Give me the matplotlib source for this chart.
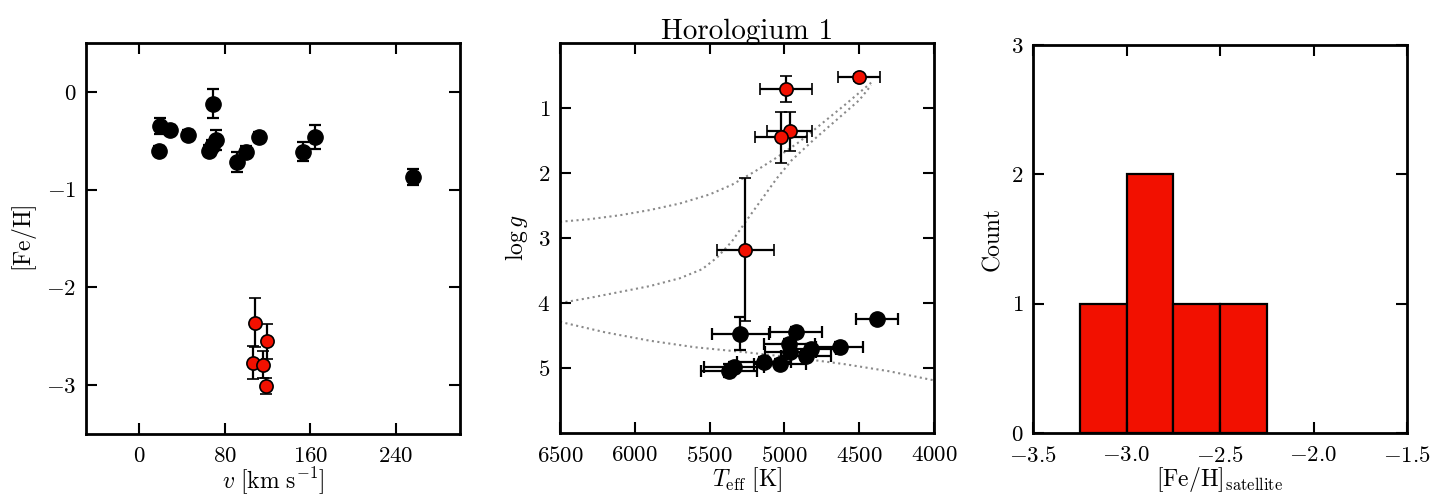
import numpy as np
import matplotlib
matplotlib.use("Agg")
import matplotlib.pyplot as plt

plt.rcParams['font.family'] = 'serif'
plt.rcParams['font.serif'] = ['cmr10', 'DejaVu Serif']
plt.rcParams['mathtext.fontset'] = 'cm'
plt.rcParams['axes.formatter.use_mathtext'] = True
plt.rcParams['axes.unicode_minus'] = True

# --- Field stars (foreground) : velocity vs metallicity
field_v = [18, 19, 29, 45, 69, 65, 72, 68, 91, 100, 112, 153, 164, 256]
field_feh = [-0.60, -0.35, -0.39, -0.44, -0.12, -0.60, -0.49, -0.55, -0.72, -0.61, -0.46, -0.61, -0.46, -0.87]
field_feh_err = [0.05, 0.08, 0.05, 0.05, 0.15, 0.06, 0.10, 0.06, 0.10, 0.06, 0.05, 0.10, 0.12, 0.08]

# --- Satellite members
memb_v = [108, 119, 106, 116, 118]
memb_feh = [-2.36, -2.55, -2.77, -2.79, -3.01]
memb_feh_err = [0.25, 0.18, 0.17, 0.14, 0.08]

# --- Stellar parameters: members
memb_teff = [4500, 4990, 4965, 5025, 5262]
memb_teff_err = [140, 175, 150, 173, 190]
memb_logg = [0.53, 0.71, 1.36, 1.45, 3.18]
memb_logg_err = [0.05, 0.20, 0.30, 0.39, 1.10]

# --- Stellar parameters: field stars
field_teff = [4380, 5296, 4922, 4967, 4631, 4821, 4855, 5139, 5030, 5336, 5370, 4960]
field_teff_err = [140, 190, 173, 170, 157, 165, 165, 180, 175, 200, 190, 170]
field_logg = [4.25, 4.47, 4.45, 4.63, 4.68, 4.71, 4.81, 4.91, 4.94, 4.99, 5.04, 4.75]
field_logg_err = [0.05, 0.25, 0.08, 0.08, 0.08, 0.08, 0.08, 0.08, 0.08, 0.08, 0.10, 0.08]

# --- Isochrone tracks
iso1_teff = [6500, 6300, 6100, 5900, 5700, 5500, 5350, 5200, 5050, 4900, 4750, 4600, 4420]
iso1_logg = [2.75, 2.71, 2.65, 2.57, 2.47, 2.33, 2.18, 1.98, 1.76, 1.52, 1.24, 0.96, 0.61]
iso2_teff = [6500, 6300, 6100, 5900, 5700, 5550, 5450, 5350, 5250, 5150, 5050, 4950, 4800, 4650, 4500, 4420]
iso2_logg = [4.00, 3.92, 3.83, 3.74, 3.62, 3.48, 3.30, 3.05, 2.72, 2.40, 2.08, 1.80, 1.48, 1.18, 0.88, 0.65]
iso3_teff = [6500, 6200, 5900, 5600, 5250, 4900, 4600, 4300, 4000]
iso3_logg = [4.29, 4.45, 4.58, 4.68, 4.76, 4.85, 4.94, 5.05, 5.19]

# --- Histogram bins
hist_bins = [-3.25, -3.0, -2.75, -2.5, -2.25]

red = '#f21000'
W, H = 1435, 495
fig = plt.figure(figsize=(W / 100, H / 100), dpi=100)

def box(x0, x1, y0, y1):
    return [x0 / W, 1 - y1 / H, (x1 - x0) / W, (y1 - y0) / H]

ax1 = fig.add_axes(box(86, 460, 43, 434))
ax2 = fig.add_axes(box(560, 934, 43, 433))
ax3 = fig.add_axes(box(1033, 1407, 45, 433))

for ax in (ax1, ax2, ax3):
    for s in ax.spines.values():
        s.set_linewidth(2)
    ax.tick_params(direction='in', length=8, width=1.5, top=True, right=True,
                   labelsize=16.5)
    ax.tick_params(axis='x', pad=9)
    ax.tick_params(axis='y', pad=7)

ebkw = dict(fmt='o', ecolor='black', elinewidth=1.6, capsize=4, capthick=1.6)

# Left: velocity vs [Fe/H]
ax1.errorbar(field_v, field_feh, yerr=field_feh_err, mfc='black', mec='black',
             ms=11, **ebkw)
ax1.errorbar(memb_v, memb_feh, yerr=memb_feh_err, mfc=red, mec='black', mew=1.2,
             ms=9.5, **ebkw)
ax1.set_xlim(-50, 300)
ax1.set_ylim(-3.5, 0.5)
ax1.set_xticks([0, 80, 160, 240])
ax1.set_yticks([0, -1, -2, -3])
ax1.set_xlabel(r'$v\ [\mathrm{km\ s^{-1}}]$', fontsize=17, labelpad=0)
ax1.set_ylabel(r'$[\mathrm{Fe/H}]$', fontsize=17, labelpad=5)

# Middle: Teff vs log g
for t, g in ((iso1_teff, iso1_logg), (iso2_teff, iso2_logg), (iso3_teff, iso3_logg)):
    ax2.plot(t, g, ls=':', color='#8a8a8a', lw=1.5, zorder=1)
ax2.errorbar(field_teff, field_logg, xerr=field_teff_err, yerr=field_logg_err,
             mfc='black', mec='black', ms=11, zorder=2, **ebkw)
ax2.errorbar(memb_teff, memb_logg, xerr=memb_teff_err, yerr=memb_logg_err,
             mfc=red, mec='black', mew=1.2, ms=9.5, zorder=3, **ebkw)
ax2.set_xlim(6500, 4000)
ax2.set_ylim(6, 0)
ax2.set_xticks([6500, 6000, 5500, 5000, 4500, 4000])
ax2.set_yticks([1, 2, 3, 4, 5])
ax2.set_xlabel(r'$T_{\rm eff}\ [\mathrm{K}]$', fontsize=17, labelpad=0)
ax2.set_ylabel(r'$\log g$', fontsize=17, labelpad=5)
ax2.set_title('Horologium 1', fontsize=21, pad=3)

# Right: metallicity histogram of members
ax3.hist(memb_feh, bins=hist_bins, color=red, edgecolor='black', linewidth=1.6)
ax3.set_xlim(-3.5, -1.5)
ax3.set_ylim(0, 3)
ax3.set_xticks([-3.5, -3.0, -2.5, -2.0, -1.5])
ax3.set_yticks([0, 1, 2, 3])
ax3.set_xlabel(r'$[\mathrm{Fe/H}]_{\mathrm{satellite}}$', fontsize=17, labelpad=0)
ax3.set_ylabel('Count', fontsize=17, labelpad=5)

fig.savefig('out.png', dpi=100)
